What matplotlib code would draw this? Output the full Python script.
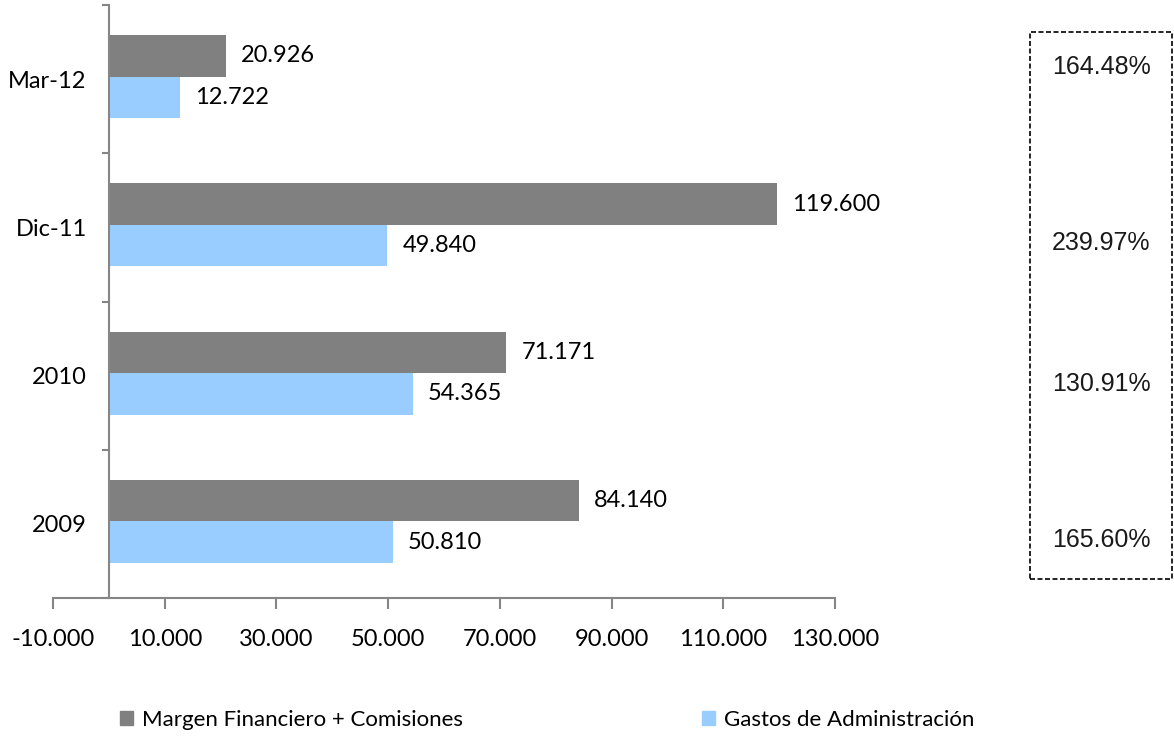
import numpy as np
import matplotlib
matplotlib.use("Agg")
import matplotlib.pyplot as plt
from matplotlib.patches import Patch, Rectangle
from matplotlib.ticker import FuncFormatter

# datos
categorias = ["2009", "2010", "Dic-11", "Mar-12"]
margen = [84140, 71171, 119600, 20926]
gastos = [50810, 54365, 49840, 12722]
cobertura = ["165.60%", "130.91%", "239.97%", "164.48%"]
etiquetas_leyenda = ["Margen Financiero + Comisiones", "Gastos de Administración"]

W, H = 1174, 737
gris = "#808080"
azul = "#99CCFF"
eje = "#868686"

plt.rcParams["font.family"] = ["Lato", "DejaVu Sans"]


def miles(v, pos=None):
    return f"{v:,.0f}".replace(",", ".")


fig = plt.figure(figsize=(W / 100, H / 100), dpi=100)
ax = fig.add_axes([53 / W, 1 - 598 / H, (835 - 53) / W, (598 - 5) / H])

y = np.arange(len(categorias))
ax.barh(y + 0.157, margen, height=0.28, color=gris)
ax.barh(y - 0.123, gastos, height=0.28, color=azul)

for yy, v in zip(y + 0.157, margen):
    ax.annotate(miles(v), (v, yy), xytext=(11, 0), textcoords="offset points",
                va="center", ha="left", fontsize=17)
for yy, v in zip(y - 0.123, gastos):
    ax.annotate(miles(v), (v, yy), xytext=(11, 0), textcoords="offset points",
                va="center", ha="left", fontsize=17)

ax.set_xlim(-10000, 130000)
ax.set_ylim(-0.5, len(categorias) - 0.5)
ax.set_xticks(np.arange(-10000, 130001, 20000))
ax.xaxis.set_major_formatter(FuncFormatter(miles))
ax.tick_params(axis="x", direction="out", length=8, width=1.5, color=eje,
               labelsize=17, pad=14)

ax.set_yticks(y)
ax.set_yticklabels(categorias)
ax.set_yticks(np.arange(-0.5, len(categorias), 1.0), minor=True)
ax.tick_params(axis="y", which="major", length=0, labelsize=17, pad=16)
ax.tick_params(axis="y", which="minor", direction="out", length=5, width=1.5, color=eje)

for s in ["top", "right"]:
    ax.spines[s].set_visible(False)
ax.spines["left"].set_position(("data", 0))
for s in ["left", "bottom"]:
    ax.spines[s].set_color(eje)
    ax.spines[s].set_linewidth(1.5)

# leyenda
fig.legend(handles=[Patch(color=gris)], labels=[etiquetas_leyenda[0]],
           loc="center left", bbox_to_anchor=(120 / W, 1 - 720 / H),
           frameon=False, fontsize=16, handlelength=0.6, handleheight=0.6,
           handletextpad=0.4, borderpad=0, borderaxespad=0)
fig.legend(handles=[Patch(color=azul)], labels=[etiquetas_leyenda[1]],
           loc="center left", bbox_to_anchor=(702 / W, 1 - 720 / H),
           frameon=False, fontsize=16, handlelength=0.6, handleheight=0.6,
           handletextpad=0.4, borderpad=0, borderaxespad=0)

# recuadro de cobertura
fig.patches.append(Rectangle((1030 / W, 1 - 579 / H), (1172 - 1030) / W, (579 - 32) / H,
                             transform=fig.transFigure, fill=False, edgecolor="black",
                             linewidth=1.2, linestyle=(0, (3, 1.5))))
pos_y = [540, 384, 243, 67]
for yy, txt in zip(pos_y, cobertura):
    fig.text(1101 / W, 1 - yy / H, txt, ha="center", va="center",
             fontsize=18, family=["Liberation Sans"], color="#1a1a1a")

fig.savefig("out.png", dpi=100)
